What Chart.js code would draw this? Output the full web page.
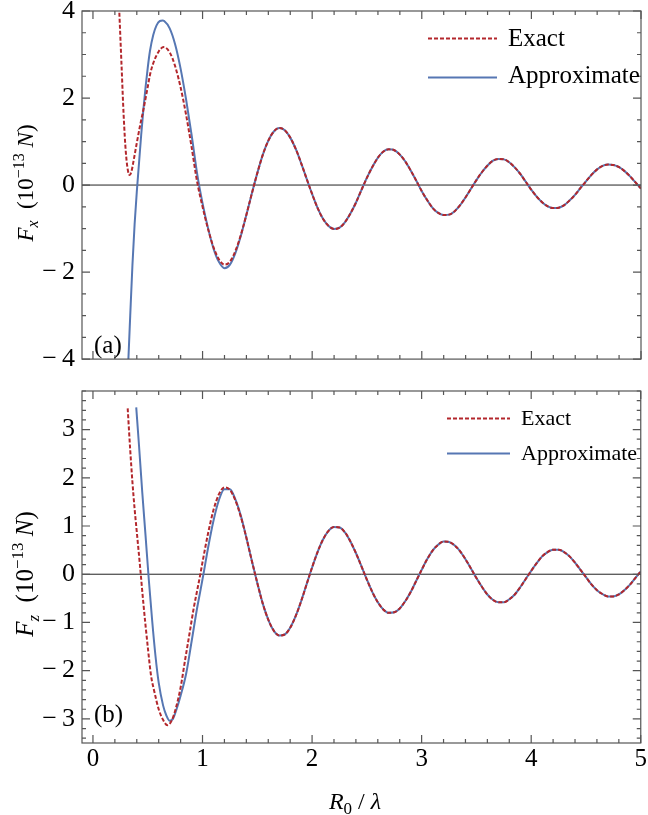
<!DOCTYPE html>
<html>
<head>
<meta charset="utf-8">
<script src="https://cdn.jsdelivr.net/npm/chart.js@4.4.1/dist/chart.umd.min.js"></script>
<style>
  body { margin: 0; background: #fff; }
  .panel { position: absolute; left: 0; }
</style>
</head>
<body>
<div class="panel" style="top:0"><canvas id="fx" width="648" height="370"></canvas></div>
<div class="panel" style="top:370px"><canvas id="fz" width="648" height="445"></canvas></div>
<script>
// values (R0/lambda on x, force in 1e-13 N on y)
const xTicks = [0, 1, 2, 3, 4, 5];
const fxTicks = [-4, -2, 0, 2, 4];
const fzTicks = [-3, -2, -1, 0, 1, 2, 3];

// far region, where both curves lie on top of each other
const xFar = [1.40, 1.45, 1.50, 1.55, 1.60, 1.65, 1.70, 1.75, 1.80, 1.85, 1.90, 1.95,
  2.00, 2.05, 2.10, 2.15, 2.20, 2.25, 2.30, 2.35, 2.40, 2.45, 2.50, 2.55, 2.60, 2.65,
  2.70, 2.75, 2.80, 2.85, 2.90, 2.95, 3.00, 3.05, 3.10, 3.15, 3.20, 3.25, 3.30, 3.35,
  3.40, 3.45, 3.50, 3.55, 3.60, 3.65, 3.70, 3.75, 3.80, 3.85, 3.90, 3.95, 4.00, 4.05,
  4.10, 4.15, 4.20, 4.25, 4.30, 4.35, 4.40, 4.45, 4.50, 4.55, 4.60, 4.65, 4.70, 4.75,
  4.80, 4.85, 4.90, 4.95, 5.00];
const fxFar = [-0.68, -0.19, 0.28, 0.70, 1.02, 1.23, 1.31, 1.26, 1.09, 0.83, 0.50, 0.14,
  -0.21, -0.53, -0.78, -0.94, -1.01, -0.98, -0.85, -0.65, -0.40, -0.11, 0.17, 0.42, 0.63, 0.77,
  0.82, 0.80, 0.70, 0.54, 0.33, 0.10, -0.14, -0.35, -0.53, -0.64, -0.69, -0.68, -0.60, -0.46,
  -0.28, -0.08, 0.12, 0.30, 0.45, 0.56, 0.60, 0.59, 0.52, 0.40, 0.25, 0.07, -0.11, -0.27,
  -0.40, -0.49, -0.53, -0.52, -0.46, -0.35, -0.22, -0.06, 0.09, 0.24, 0.36, 0.44, 0.47, 0.46,
  0.41, 0.32, 0.20, 0.06, -0.08];
const fzFar = [0.76, 0.28, -0.18, -0.61, -0.94, -1.17, -1.27, -1.25, -1.11, -0.87, -0.56, -0.21,
  0.14, 0.46, 0.72, 0.90, 0.98, 0.97, 0.87, 0.68, 0.44, 0.17, -0.11, -0.37, -0.58, -0.73,
  -0.80, -0.79, -0.71, -0.56, -0.37, -0.14, 0.09, 0.31, 0.49, 0.61, 0.68, 0.67, 0.60, 0.48,
  0.31, 0.12, -0.08, -0.26, -0.42, -0.53, -0.58, -0.58, -0.52, -0.42, -0.27, -0.10, 0.07, 0.23,
  0.37, 0.46, 0.51, 0.51, 0.46, 0.37, 0.24, 0.09, -0.06, -0.21, -0.33, -0.41, -0.46, -0.46,
  -0.42, -0.33, -0.22, -0.08, 0.06];

// near region, panel (a)
const xFxExact = [0.22, 0.24, 0.26, 0.28, 0.30, 0.32, 0.335, 0.35, 0.37, 0.40, 0.43, 0.46,
  0.50, 0.52, 0.55, 0.60, 0.645, 0.70, 0.75, 0.80, 0.85, 0.90, 0.95, 1.00, 1.05, 1.10,
  1.15, 1.20, 1.25, 1.30, 1.35];
const fxExact = [5.2, 4.0, 2.8, 1.6, 0.75, 0.32, 0.23, 0.30, 0.55, 0.97, 1.37, 1.73,
  2.26, 2.53, 2.80, 3.07, 3.17, 3.05, 2.73, 2.24, 1.61, 0.87, 0.08, -0.50, -1.01, -1.43,
  -1.71, -1.83, -1.76, -1.51, -1.14];
const xFxApprox = [0.30, 0.32, 0.34, 0.36, 0.38, 0.40, 0.42, 0.44, 0.46, 0.48, 0.50, 0.52,
  0.55, 0.58, 0.61, 0.635, 0.65, 0.70, 0.75, 0.80, 0.85, 0.90, 0.95, 1.00, 1.05, 1.10,
  1.15, 1.20, 1.25, 1.30, 1.35];
const fxApprox = [-5.6, -4.2, -3.0, -1.85, -0.90, -0.15, 0.50, 1.15, 1.73, 2.25, 2.70, 3.08,
  3.45, 3.67, 3.77, 3.78, 3.77, 3.60, 3.23, 2.67, 1.96, 1.15, 0.27, -0.42, -0.99, -1.46,
  -1.77, -1.91, -1.83, -1.56, -1.16];

// near region, panel (b)
const xFzExact = [0.317, 0.34, 0.36, 0.38, 0.40, 0.43, 0.46, 0.50, 0.53, 0.56, 0.60, 0.64,
  0.68, 0.72, 0.76, 0.80, 0.84, 0.88, 0.92, 0.95, 0.98, 1.00, 1.05, 1.10, 1.15, 1.20,
  1.25, 1.30, 1.35];
const fzExact = [3.44, 2.58, 1.92, 1.36, 0.88, 0.16, -0.60, -1.50, -2.10, -2.43, -2.80, -3.02,
  -3.13, -3.03, -2.75, -2.35, -1.79, -1.25, -0.70, -0.35, 0.00, 0.25, 0.84, 1.33, 1.66, 1.80,
  1.75, 1.53, 1.19];
const xFzApprox = [0.395, 0.42, 0.45, 0.48, 0.51, 0.54, 0.57, 0.60, 0.64, 0.67, 0.70, 0.73,
  0.76, 0.80, 0.85, 0.90, 0.95, 0.98, 1.01, 1.05, 1.10, 1.15, 1.20, 1.25, 1.30, 1.35];
const fzApprox = [3.46, 2.68, 1.70, 0.80, -0.12, -0.95, -1.68, -2.25, -2.72, -2.93, -3.04, -3.00,
  -2.82, -2.52, -2.07, -1.40, -0.71, -0.35, 0.02, 0.54, 1.11, 1.54, 1.76, 1.76, 1.55, 1.21];

const RED = "#b3272c";
const BLUE = "#5677b3";
const SERIF = "'Liberation Serif', 'DejaVu Serif', serif";

function pts(xs, ys) {
  return xs.map((x, i) => ({ x: x, y: ys[i] }));
}

function runsWidth(ctx, runs) {
  let w = 0;
  runs.forEach((r) => {
    ctx.font = r.font;
    w += ctx.measureText(r.t).width;
  });
  return w;
}

function drawRuns(ctx, runs, x, y) {
  runs.forEach((r) => {
    ctx.font = r.font;
    ctx.fillText(r.t, x, y + (r.dy || 0));
    x += ctx.measureText(r.t).width;
  });
}

function minusLabel(v) {
  return v < 0 ? "\u2212\u2009" + Math.abs(v) : String(v);
}

// frame, inward ticks and the zero line, Mathematica style
const framePlugin = {
  id: "frame",
  beforeDatasetsDraw(chart) {
    const { ctx, chartArea: a, scales } = chart;
    const y0 = scales.y.getPixelForValue(0);
    ctx.save();
    ctx.strokeStyle = "#222";
    ctx.lineWidth = 1;
    ctx.beginPath();
    ctx.moveTo(a.left, y0);
    ctx.lineTo(a.right, y0);
    ctx.stroke();
    ctx.restore();
  },
  afterDatasetsDraw(chart, args, opts) {
    const { ctx, chartArea: a, scales } = chart;
    ctx.save();
    ctx.strokeStyle = "#555";
    ctx.lineWidth = 1.2;
    ctx.strokeRect(a.left, a.top, a.right - a.left, a.bottom - a.top);
    ctx.beginPath();
    for (let i = 0; i <= 25; i++) {
      const px = scales.x.getPixelForValue(i * 0.2);
      const len = i % 5 === 0 ? 8 : 4;
      ctx.moveTo(px, a.bottom);
      ctx.lineTo(px, a.bottom - len);
      ctx.moveTo(px, a.top);
      ctx.lineTo(px, a.top + len);
    }
    for (let i = opts.yFrom; i <= opts.yTo; i++) {
      const v = i * opts.yStep;
      const py = scales.y.getPixelForValue(v);
      const len = i % opts.yMajorEvery === 0 ? 8 : 4;
      ctx.moveTo(a.left, py);
      ctx.lineTo(a.left + len, py);
      ctx.moveTo(a.right, py);
      ctx.lineTo(a.right - len, py);
    }
    ctx.stroke();
    ctx.restore();
  },
};

// titles, panel tag and legend
const textPlugin = {
  id: "texts",
  afterDraw(chart, args, opts) {
    const ctx = chart.ctx;
    ctx.save();
    ctx.fillStyle = "#000";
    ctx.textBaseline = "alphabetic";

    // y title, rotated
    const s = opts.titleSize;
    const small = Math.round(s * 0.68);
    const runs = [
      { t: "F", font: `italic ${s}px ${SERIF}` },
      { t: opts.sub, font: `italic ${small}px ${SERIF}`, dy: s * 0.22 },
      { t: "  (10", font: `${s}px ${SERIF}` },
      { t: "\u221213", font: `${small}px ${SERIF}`, dy: -s * 0.4 },
      { t: " ", font: `${s}px ${SERIF}` },
      { t: "N", font: `italic ${s}px ${SERIF}` },
      { t: ")", font: `${s}px ${SERIF}` },
    ];
    ctx.save();
    ctx.translate(33, opts.titleY);
    ctx.rotate(-Math.PI / 2);
    drawRuns(ctx, runs, -runsWidth(ctx, runs) / 2, 0);
    ctx.restore();

    // panel tag
    ctx.font = `25px ${SERIF}`;
    ctx.fillText(opts.tag, 94, opts.tagY);

    // legend
    const lg = opts.legend;
    ctx.font = `${lg.size}px ${SERIF}`;
    ctx.fillText("Exact", lg.textX, lg.base1);
    ctx.fillText("Approximate", lg.textX, lg.base2);
    ctx.lineWidth = 2;
    ctx.strokeStyle = RED;
    ctx.setLineDash([4, 2]);
    ctx.beginPath();
    ctx.moveTo(lg.x1, lg.line1);
    ctx.lineTo(lg.x2, lg.line1);
    ctx.stroke();
    ctx.setLineDash([]);
    ctx.strokeStyle = BLUE;
    ctx.beginPath();
    ctx.moveTo(lg.x1, lg.line2);
    ctx.lineTo(lg.x2, lg.line2);
    ctx.stroke();

    // x title, lower panel only
    if (opts.xTitle) {
      const xr = [
        { t: "R", font: `italic 24px ${SERIF}` },
        { t: "0", font: `17px ${SERIF}`, dy: 5 },
        { t: " / ", font: `24px ${SERIF}` },
        { t: "\u03bb", font: `italic 24px ${SERIF}` },
      ];
      drawRuns(ctx, xr, 355 - runsWidth(ctx, xr) / 2, 439);
    }
    ctx.restore();
  },
};

function lineSet(label, data, color, dashed) {
  return {
    label: label,
    data: data,
    borderColor: color,
    borderWidth: 2,
    borderDash: dashed ? [4, 2] : [],
    pointRadius: 0,
    fill: false,
    cubicInterpolationMode: "monotone",
    clip: 0,
  };
}

function makeChart(id, cfg) {
  return new Chart(document.getElementById(id), {
    type: "line",
    data: {
      datasets: [
        lineSet("Exact", cfg.exact, RED, true),
        lineSet("Approximate", cfg.approx, BLUE, false),
      ],
    },
    options: {
      responsive: false,
      animation: false,
      devicePixelRatio: 1,
      layout: { padding: cfg.padding },
      plugins: {
        legend: { display: false },
        tooltip: { enabled: false },
        frame: cfg.frame,
        texts: cfg.texts,
      },
      scales: {
        x: {
          type: "linear",
          min: -0.1,
          max: 5,
          display: cfg.showX,
          grid: { display: false, drawTicks: false },
          border: { display: false },
          afterBuildTicks: (s) => {
            s.ticks = xTicks.map((v) => ({ value: v }));
          },
          afterFit: (s) => {
            s.height = cfg.xHeight;
          },
          ticks: {
            font: { family: SERIF, size: 25 },
            color: "#000",
            padding: 1,
            maxRotation: 0,
          },
        },
        y: {
          type: "linear",
          min: cfg.yMin,
          max: cfg.yMax,
          grid: { display: false, drawTicks: false },
          border: { display: false },
          afterBuildTicks: (s) => {
            s.ticks = cfg.yTicks.map((v) => ({ value: v }));
          },
          afterFit: (s) => {
            s.width = 82;
          },
          ticks: {
            // small line height so the end labels don't push the plot area in
            font: { family: SERIF, size: 26, lineHeight: 0.3 },
            color: "#000",
            padding: 7,
            callback: (v) => minusLabel(v),
          },
        },
      },
    },
    plugins: [framePlugin, textPlugin],
  });
}

const chartFx = makeChart("fx", {
  exact: pts(xFxExact, fxExact).concat(pts(xFar, fxFar)),
  approx: pts(xFxApprox, fxApprox).concat(pts(xFar, fxFar)),
  padding: { left: 0, top: 11, right: 7, bottom: 8 },
  showX: false,
  xHeight: 0,
  yMin: -4,
  yMax: 4,
  yTicks: fxTicks,
  frame: { yFrom: -8, yTo: 8, yStep: 0.5, yMajorEvery: 4 },
  texts: {
    titleSize: 23,
    sub: "x",
    titleY: 183,
    tag: "(a)",
    tagY: 353,
    legend: { size: 25, x1: 428, x2: 497, textX: 508, line1: 38.5, line2: 77.5, base1: 46, base2: 83 },
  },
});

const chartFz = makeChart("fz", {
  exact: pts(xFzExact, fzExact).concat(pts(xFar, fzFar)),
  approx: pts(xFzApprox, fzApprox).concat(pts(xFar, fzFar)),
  padding: { left: 0, top: 21, right: 7, bottom: 0 },
  showX: true,
  xHeight: 72,
  yMin: -3.5,
  yMax: 3.8,
  yTicks: fzTicks,
  frame: { yFrom: -17, yTo: 19, yStep: 0.2, yMajorEvery: 5 },
  texts: {
    titleSize: 25,
    sub: "z",
    titleY: 204,
    tag: "(b)",
    tagY: 352,
    legend: { size: 22, x1: 447, x2: 510, textX: 521, line1: 48.5, line2: 83.5, base1: 55, base2: 90 },
    xTitle: true,
  },
});
</script>
</body>
</html>
